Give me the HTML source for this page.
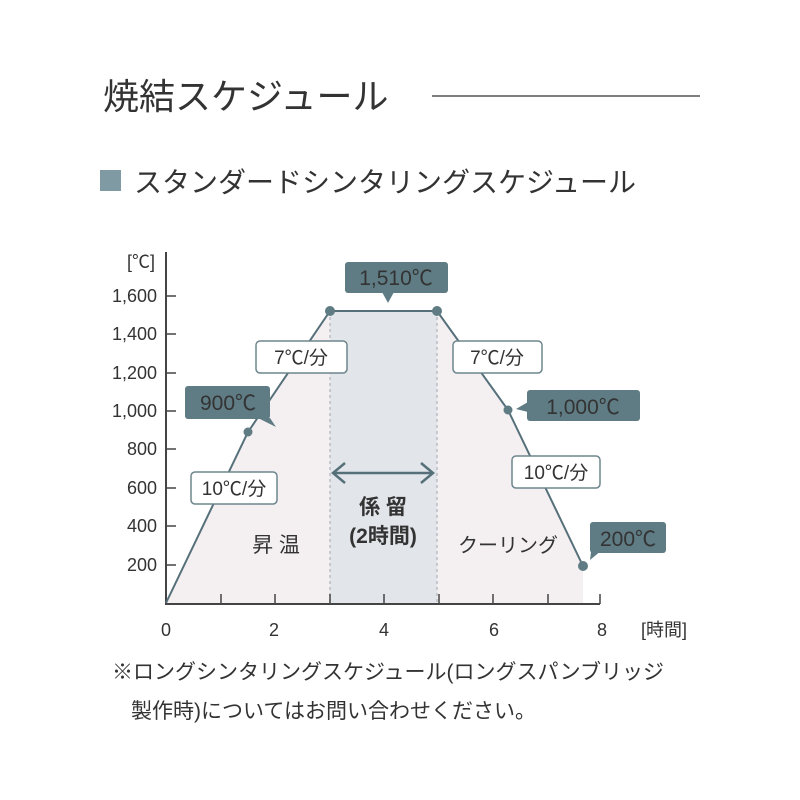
<!DOCTYPE html>
<html><head><meta charset="utf-8"><style>
html,body{margin:0;padding:0;background:#fff;}
svg{display:block;}
text{font-family:"Liberation Sans","Noto Sans CJK JP",sans-serif;fill:#333;}
</style></head><body>
<svg width="800" height="800" viewBox="0 0 800 800" xmlns="http://www.w3.org/2000/svg">
<text x="103" y="109" font-size="36" fill="#333">焼結スケジュール</text>
<line x1="432" y1="96" x2="700" y2="96" stroke="#555" stroke-width="1.5"/>
<rect x="100" y="170" width="21" height="21" fill="#7f9aa2"/>
<text x="134" y="192" font-size="28" fill="#333">スタンダードシンタリングスケジュール</text>

<!-- fills -->
<polygon points="166,603 248,432 330,311 330,603" fill="#f4eff1"/>
<rect x="330" y="311" width="107" height="292" fill="#e2e5ea"/>
<polygon points="437,311 508,410 583,566 583,603 437,603" fill="#f4eff1"/>
<line x1="330" y1="311" x2="330" y2="603" stroke="#b9bfc4" stroke-width="1.5" stroke-dasharray="3,3"/>
<line x1="437" y1="311" x2="437" y2="603" stroke="#b9bfc4" stroke-width="1.5" stroke-dasharray="3,3"/>

<!-- axes -->
<line x1="166" y1="252" x2="166" y2="604" stroke="#444" stroke-width="2"/>
<line x1="165" y1="604" x2="600" y2="604" stroke="#444" stroke-width="2"/>
<g stroke="#444" stroke-width="1.5">
<line x1="166" y1="296" x2="176" y2="296"/><line x1="166" y1="334" x2="176" y2="334"/>
<line x1="166" y1="373" x2="176" y2="373"/><line x1="166" y1="411" x2="176" y2="411"/>
<line x1="166" y1="449" x2="176" y2="449"/><line x1="166" y1="488" x2="176" y2="488"/>
<line x1="166" y1="526" x2="176" y2="526"/><line x1="166" y1="565" x2="176" y2="565"/>
<line x1="221" y1="594" x2="221" y2="604"/><line x1="275" y1="594" x2="275" y2="604"/>
<line x1="330" y1="594" x2="330" y2="604"/><line x1="384" y1="594" x2="384" y2="604"/>
<line x1="439" y1="594" x2="439" y2="604"/><line x1="493" y1="594" x2="493" y2="604"/>
<line x1="548" y1="594" x2="548" y2="604"/><line x1="600" y1="594" x2="600" y2="604"/>
</g>
<g font-size="18" text-anchor="end" fill="#333">
<text x="155" y="268">[℃]</text>
<text x="157" y="302">1,600</text><text x="157" y="340">1,400</text>
<text x="157" y="379">1,200</text><text x="157" y="417">1,000</text>
<text x="157" y="455">800</text><text x="157" y="494">600</text>
<text x="157" y="532">400</text><text x="157" y="571">200</text>
</g>
<g font-size="18" text-anchor="middle">
<text x="166" y="636">0</text><text x="274" y="636">2</text><text x="384" y="636">4</text>
<text x="494" y="636">6</text><text x="602" y="636">8</text>
<text x="664" y="636">[時間]</text>
</g>

<!-- curve -->
<polyline points="166,603 248,432 330,311 437,311 508,410 583,566" fill="none" stroke="#56707a" stroke-width="2"/>
<g fill="#5f7c84"><circle cx="330" cy="311" r="5"/><circle cx="437" cy="311" r="5"/>
<circle cx="248" cy="432" r="4.5"/><circle cx="508" cy="410" r="4.5"/><circle cx="583" cy="566" r="5"/></g>

<!-- dark labels -->
<g fill="#5f7c84">
<rect x="345" y="262" width="103" height="31" rx="3"/><polygon points="382,292 394,292 388,303"/>
<rect x="185" y="386" width="85" height="33" rx="3"/><polygon points="258,418 270,418 276,427"/>
<rect x="527" y="390" width="113" height="31" rx="3"/><polygon points="528,402 528,412 516,409"/>
<rect x="590" y="522" width="76" height="31" rx="3"/><polygon points="592,544 602,550 590,560"/>
</g>
<g font-size="21" fill="#fff" text-anchor="middle">
<text x="396" y="285" fill="#fff">1,510℃</text>
<text x="228" y="410" fill="#fff">900℃</text>
<text x="583" y="414" fill="#fff">1,000℃</text>
<text x="628" y="546" fill="#fff">200℃</text>
</g>
<!-- white labels -->
<g fill="#fff" stroke="#6d858c" stroke-width="1.5">
<rect x="256" y="341" width="91" height="32" rx="4"/>
<rect x="453" y="341" width="89" height="32" rx="4"/>
<rect x="191" y="472" width="86" height="32" rx="4"/>
<rect x="512" y="456" width="88" height="32" rx="4"/>
</g>
<g font-size="19" text-anchor="middle" fill="#444">
<text x="301" y="364">7℃/分</text><text x="497" y="364">7℃/分</text>
<text x="234" y="495">10℃/分</text><text x="556" y="479">10℃/分</text>
</g>

<!-- hold arrow -->
<g stroke="#56707a" stroke-width="2.5" fill="none">
<line x1="333" y1="473" x2="433" y2="473"/>
<polyline points="345,463 333,473 345,483"/><polyline points="421,463 433,473 421,483"/>
</g>
<text x="383" y="514" font-size="21" font-weight="bold" text-anchor="middle" fill="#4d6670">係 留</text>
<text x="383" y="543" font-size="21" font-weight="bold" text-anchor="middle" fill="#4d6670">(2時間)</text>
<text x="276" y="552" font-size="21" text-anchor="middle" fill="#333">昇 温</text>
<text x="508" y="552" font-size="20" text-anchor="middle" fill="#333">クーリング</text>

<text x="112" y="679" font-size="21" fill="#444">※ロングシンタリングスケジュール(ロングスパンブリッジ</text>
<text x="131" y="718" font-size="21" fill="#444">製作時)についてはお問い合わせください。</text>
</svg>
</body></html>
